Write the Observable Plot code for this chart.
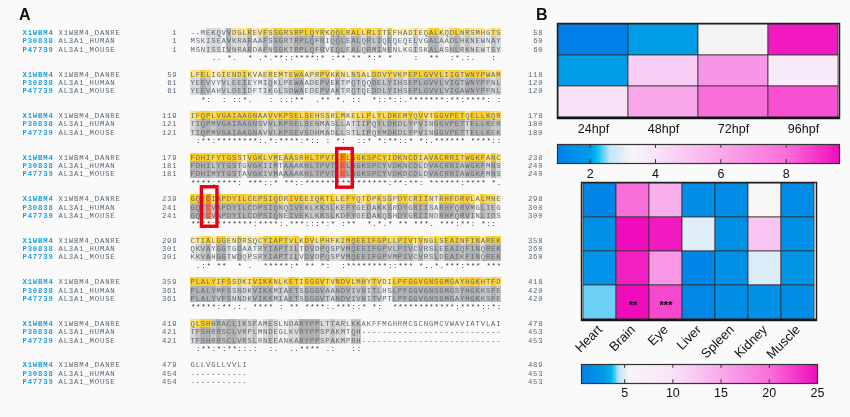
<!DOCTYPE html>
<html><head><meta charset="utf-8">
<script src="https://cdn.jsdelivr.net/npm/d3@7"></script>
<script src="https://cdn.jsdelivr.net/npm/@observablehq/plot@0.6"></script>
<style>
html,body{margin:0;padding:0;background:#fafafa;}
#page{position:relative;width:850px;height:417px;overflow:hidden;background:#fafafa;filter:blur(0.35px);}
#page svg{position:absolute;background:transparent;overflow:visible;}
.tag{position:absolute;font:bold 16px "Liberation Sans",Arial,sans-serif;color:#111;line-height:16px;}
.mono text{letter-spacing:0.804px;}
</style></head><body><div id="page"></div>
<script>
// ---------- Panel A: alignment ----------
const speciesIds = ["X1WBM4", "P30838", "P47739"];
const speciesNames = ["X1WBM4_DANRE", "AL3A1_HUMAN", "AL3A1_MOUSE"];
const danioBlocks = [
  "--MEKQVVDGLREVFSSGRSRPLQYRKQQLRALLRLITEFHADIEQALKQDLNRSMHGTS",
  "LFELIGIENDIKVAEREMTEWAAPRPVKKNLNSALDDVYVKPEPLGVVLIIGTWNYPWAM",
  "IFQPLVGAIAAGNAAVVKPSELSEHSSRLMKELLPLYLDKEMYQVVTGGVPETQELLKQR",
  "FDHIFYTGSSTVGKLVMEAASRHLTPVTLELGGKSPCYIDKNCDIAVACRRITWGKFANC",
  "GQTCIAPDYILCEPSIQDRIVEEIQKTLLEFYQTDPKSSPDYCRIINTRHFDRVLALMNE",
  "CTIALGGENDRSQCYIAPTVLKDVLPHFKIMQEEIFGPLLPIVTVNGLSEAINFINAREK",
  "PLALYIFSSDKIVIKKNLKETISGGVTVNDVLMHYTVDILPFGGVGNSGMGAYHGKHTFD",
  "QLSHHRACLIKSFAMESLNDARYPPLTTARLKKAKFFMGHRMCSCNGMCVWAVIATVLAI",
  "GLLVGLLVVLI"
];
const humanBlocks = [
  "MSKISEAVKRARAAFSSGRTRPLQFRIQQLEALQRLIQEQEQELVGALAADLHKNEWNAY",
  "YEEVVYVLEEIEYMIQKLPEWAADEPVEKTPQTQQDELYIHSEPLGVVLVIGTWNYPFNL",
  "TIQPMVGAIAAGNSVVLKPSELSENMASLLATIIPQYLDKDLYPVINGGVPETTELLKER",
  "FDHILYTGSTGVGKIIMTAAAKHLTPVTLELGGKSPCYVDKNCDLDVACRRIAWGKFMNS",
  "GQTCVAPDYILCDPSIQNQIVEKLKKSLKEFYGEDAKKSRDYGRIISARHFQRVMGLIEG",
  "QKVAYGGTGDAATRYIAPTILTDVDPQSPVMQEEIFGPVLPIVCVRSLEEAIQFINQREK",
  "PLALYMFSSNDKVIKKMIAETSSGGVAANDVIVHITLHSLPFGGVGNSGMGSYHGKKSFE",
  "TFSHRRSCLVRPLMNDEGLKVRYPPSPAKMTQH---------------------------",
  "-----------"
];
const mouseBlocks = [
  "MSNISSIVNRARDAFNSGKTRPLQFRVEQLEALQRMINENLKGISKALASNLRKNEWTSY",
  "YEEVAHVLDEIDFTIKGLSDWAEDEPVAKTRQTQEDDLYIHSEPLGVVLVIGAWNYPFNL",
  "TIQPMVGAIAAGNAVVLKPSEVSDHMADLLSTLIPQYMDKDLYPVINGGVPETTELLKEK",
  "FDHIMYTGSTAVGKIVMAAAAKHLTPVTLELGGKSPCYVDKDCDLDVACRRIAWGKFMNS",
  "GQTCVAPDYILCDPSIQNEIVEKLKKSLKDFYGEDAKQSHDYGRIINDRHFQRVINLIDS",
  "KKVAHGGTWDQPSRYIAPTILVDVDPQSPVMQEEIFGPVMPIVCVRSLDEAIKFINQREK",
  "PLALYVFSNNDKVIKKMIAETSSGGVTANDVIVHITVPTLPFGGVGNSGMGAYHGKKSFE",
  "TFSHRRSCLVRSLRNEEANKARYPPSPAKMPRH---------------------------",
  "-----------"
];
const catalyticSites = [{block: 3, col: 29}, {block: 4, col: 3}];
const strongGroups = ["STA","NEQK","NHQK","NDEQ","QHRK","MILV","MILF","HY","FYW"];
const weakGroups = ["CSA","ATV","SAG","STNK","STPA","SGND","SNDEQK","NDEQHK","NEQHRK","FVLIM","HFY"];

function consensus(a, b, c) {
  if (a === "-" || b === "-" || c === "-") return " ";
  if (a === b && b === c) return "*";
  const inGroup = g => g.includes(a) && g.includes(b) && g.includes(c);
  if (strongGroups.some(inGroup)) return ":";
  if (weakGroups.some(inGroup)) return ".";
  return " ";
}

const allBlocks = [danioBlocks, humanBlocks, mouseBlocks];
const rows = [], cells = [], marks = [];
const counts = [0, 0, 0];
danioBlocks.forEach((_, b) => {
  allBlocks.forEach((blocks, s) => {
    const seq = blocks[b];
    const n = seq.replace(/-/g, "").length;
    rows.push({block: b, line: b * 5 + s, s, seq, id: speciesIds[s], name: speciesNames[s],
               start: counts[s] + 1, end: counts[s] + n});
    counts[s] += n;
  });
  const [d, h, m] = [danioBlocks[b], humanBlocks[b], mouseBlocks[b]];
  d.split("").forEach((ch, c) => {
    const mark = consensus(d[c], h[c], m[c]);
    if (mark !== " ") marks.push({mark, col: c, line: b * 5 + 3});
    const hasGap = d[c] === "-" || h[c] === "-" || m[c] === "-";
    const inDomain = (b > 0 && b < 7) || (b === 0 && c >= 8) || (b === 7 && c <= 3);
    for (let s = 0; s < 3; s++) {
      const site = catalyticSites.some(q => q.block === b && q.col === c);
      let level;
      if (site) level = s === 0 ? "siteD" : "siteO";
      else if (hasGap) level = null;
      else {
        const k = mark === "*" ? "3" : mark === ":" ? "2" : mark === "." ? "1" : (h[c] === m[c] ? "1" : "0");
        level = (s === 0 && inDomain ? "y" : "g") + k;
      }
      if (level) cells.push({line: b * 5 + s, col: c, level});
    }
  });
});

const charPx = 5.184, linePx = 8.31, firstLinePx = 32.2, seqLeft = 190 / charPx;
const monoFont = "Liberation Mono, monospace";
const monoSize = 7.3;
const redBoxes = [
  {x1: 28.3, x2: 31.3, y1: 14.0, y2: 18.65},
  {x1: 2.2, x2: 5.2, y1: 18.6, y2: 23.35}
];

const panelA = Plot.plot({
  width: 550, height: 417, margin: 0,
  x: {domain: [0, 550 / charPx], range: [0, 550], axis: null},
  y: {domain: [-firstLinePx / linePx, (417 - firstLinePx) / linePx], range: [0, 417], axis: null},
  color: {
    domain: ["y3","y2","y1","y0","g3","g2","g1","g0","siteD","siteO"],
    range: ["#fbd02e","#fcdb5e","#fde488","#feeeb8","#b2b2b2","#c6c6c6","#dadada","#f0f0f0","#f58a10","#f0705a"]
  },
  marks: [
    Plot.rect(cells, {
      x1: d => seqLeft + d.col, x2: d => seqLeft + d.col + 1,
      y1: d => d.line - 0.5, y2: d => d.line + 0.5,
      fill: "level", shapeRendering: "crispEdges"
    }),
    Plot.text(rows, {x: 22 / charPx, y: "line", text: "id", textAnchor: "start", fontFamily: monoFont, fontSize: monoSize, fontWeight: "bold", fill: "#1f9fe0", className: "mono"}),
    Plot.text(rows, {x: 58 / charPx, y: "line", text: "name", textAnchor: "start", fontFamily: monoFont, fontSize: monoSize, fill: "#5a6672", className: "mono"}),
    Plot.text(rows, {x: 177 / charPx, y: "line", text: "start", textAnchor: "end", fontFamily: monoFont, fontSize: monoSize, fill: "#5a6672", className: "mono"}),
    Plot.text(rows, {x: seqLeft, y: "line", text: "seq", textAnchor: "start", fontFamily: monoFont, fontSize: monoSize, fill: "#5d6975", className: "mono"}),
    Plot.text(rows, {x: 543 / charPx, y: "line", text: "end", textAnchor: "end", fontFamily: monoFont, fontSize: monoSize, fill: "#5a6672", className: "mono"}),
    Plot.text(marks, {x: d => seqLeft + d.col + 0.5, y: "line", text: "mark", fontFamily: monoFont, fontSize: monoSize, fill: "#333"}),
    Plot.rect(redBoxes, {
      x1: d => seqLeft + d.x1, x2: d => seqLeft + d.x2, y1: "y1", y2: "y2",
      fill: "none", stroke: "#e60012", strokeWidth: 3.4
    })
  ]
});

// ---------- Panel B ----------
const stages = ["24hpf", "48hpf", "72hpf", "96hpf"];
const stageRow1 = [1.0, 2.0, 3.25, 9.4];
const stageRow2 = [2.0, 4.7, 6.7, 3.7];
const stageRow3 = [4.0, 6.1, 8.0, 8.5];
const stageColorDomain = [1.0, 2.0, 2.2, 2.6, 3.3, 4.0, 6.0, 8.0, 9.63];
const tissues = ["Heart", "Brain", "Eye", "Liver", "Spleen", "Kidney", "Muscle"];
const tissueRow1 = [1.0, 20, 14.5, 1.8, 1.5, 5.5, 1.5];
const tissueRow2 = [2.0, 25, 24.3, 5.0, 2.0, 12.5, 2.0];
const tissueRow3 = [2.2, 24.0, 16.5, 1.0, 2.0, 4.9, 2.3];
const tissueRow4 = [4.1, 25, 22, 1.2, 1.8, 2.0, 1.8];
const tissueColorDomain = [0.53, 3.0, 3.7, 4.4, 5.5, 10, 15, 20, 25];
const colorRamp = ["#0080e8","#009ce6","#00b8f0","#bfe4f8","#f8f5f7","#f9e2f9","#f9aaec","#fa6edc","#f00cbc"];
const topTicks = [2, 4, 6, 8];
const bottomTicks = [5, 10, 15, 20, 25];
const sigLabels = [{tissue: "Brain", text: "**"}, {tissue: "Eye", text: "***"}];

const sansFont = "Liberation Sans, Arial, sans-serif";
function toCells(columns, rowsArr) {
  return rowsArr.flatMap((vals, r) => vals.map((v, c) => ({col: columns[c], row: r, v})));
}

function heatmap(columns, rowsArr, domain, opts) {
  return Plot.plot({
    width: opts.w, height: opts.h + opts.below,
    marginTop: 0, marginLeft: 0, marginRight: 0, marginBottom: opts.below,
    x: {domain: columns, padding: 0, label: null},
    y: {domain: d3.range(rowsArr.length), padding: 0, axis: null},
    color: {type: "linear", domain, range: colorRamp, clamp: true},
    marks: [
      Plot.cell(toCells(columns, rowsArr), {x: "col", y: "row", fill: "v", stroke: "#333", strokeWidth: 0.8}),
      Plot.axisX({anchor: "bottom", tickSize: 0, tickPadding: opts.pad, tickRotate: opts.rotate, fontSize: opts.font, fontFamily: sansFont, fill: "#111", label: null}),
      ...(opts.extra || []),
      Plot.frame({stroke: "#222", strokeWidth: 1.5}),
      Plot.ruleY([rowsArr.length - 1], {dy: opts.h / rowsArr.length / 2, stroke: "#111", strokeWidth: 2})
    ]
  });
}

function colorbar(domain, ticks, opts) {
  const [lo, hi] = [domain[0], domain[domain.length - 1]];
  const n = 280, st = (hi - lo) / n;
  const steps = d3.range(n).map(i => lo + i * st);
  return Plot.plot({
    width: opts.w, height: opts.h + 22,
    marginTop: 0, marginLeft: 0, marginRight: 0, marginBottom: 22,
    x: {domain: [lo, hi], label: null},
    y: {domain: [0, 1], axis: null},
    color: {type: "linear", domain, range: colorRamp, clamp: true},
    marks: [
      Plot.rect(steps, {x1: d => d, x2: d => d + st * 1.3, y1: 0, y2: 1, fill: d => d, shapeRendering: "crispEdges"}),
      Plot.ruleX(ticks.filter(t => t < hi), {y1: 0, y2: 0.2, stroke: "#333", strokeWidth: 1}),
      Plot.ruleX(ticks.filter(t => t < hi), {y1: 0.8, y2: 1, stroke: "#333", strokeWidth: 1}),
      Plot.axisX(ticks, {anchor: "bottom", tickSize: 0, tickPadding: opts.pad, fontSize: 12.5, fontFamily: sansFont, fill: "#111", label: null, tickFormat: d => String(d)}),
      Plot.frame({stroke: "#333", strokeWidth: 1.2})
    ]
  });
}

const heatTop = heatmap(stages, [stageRow1, stageRow2, stageRow3], stageColorDomain,
  {w: 282, h: 95, below: 22, pad: 6, rotate: 0, font: 12.5});
const barTop = colorbar(stageColorDomain, topTicks, {w: 282, h: 19, pad: 6});
const heatBottom = heatmap(tissues, [tissueRow1, tissueRow2, tissueRow3, tissueRow4], tissueColorDomain,
  {w: 235, h: 138, below: 46, pad: 7, rotate: -45, font: 13,
   extra: [Plot.text(sigLabels, {x: "tissue", y: () => 3, text: "text", fontSize: 11, fontFamily: sansFont, fontWeight: "bold", fill: "#000", dy: 3})]});
const barBottom = colorbar(tissueColorDomain, bottomTicks, {w: 236, h: 19, pad: 5});

const page = document.getElementById("page");
function place(el, left, top) { el.style.left = left + "px"; el.style.top = top + "px"; page.appendChild(el); }
place(panelA, 0, 0);
place(heatTop, 557.3, 22.7);
place(barTop, 557.3, 144.3);
place(heatBottom, 580.7, 182);
place(barBottom, 580.7, 363.7);
for (const [t, l, y] of [["A", 19, 7], ["B", 536, 7]]) {
  const s = document.createElement("div");
  s.className = "tag"; s.textContent = t; s.style.left = l + "px"; s.style.top = y + "px";
  page.appendChild(s);
}
</script></body></html>
